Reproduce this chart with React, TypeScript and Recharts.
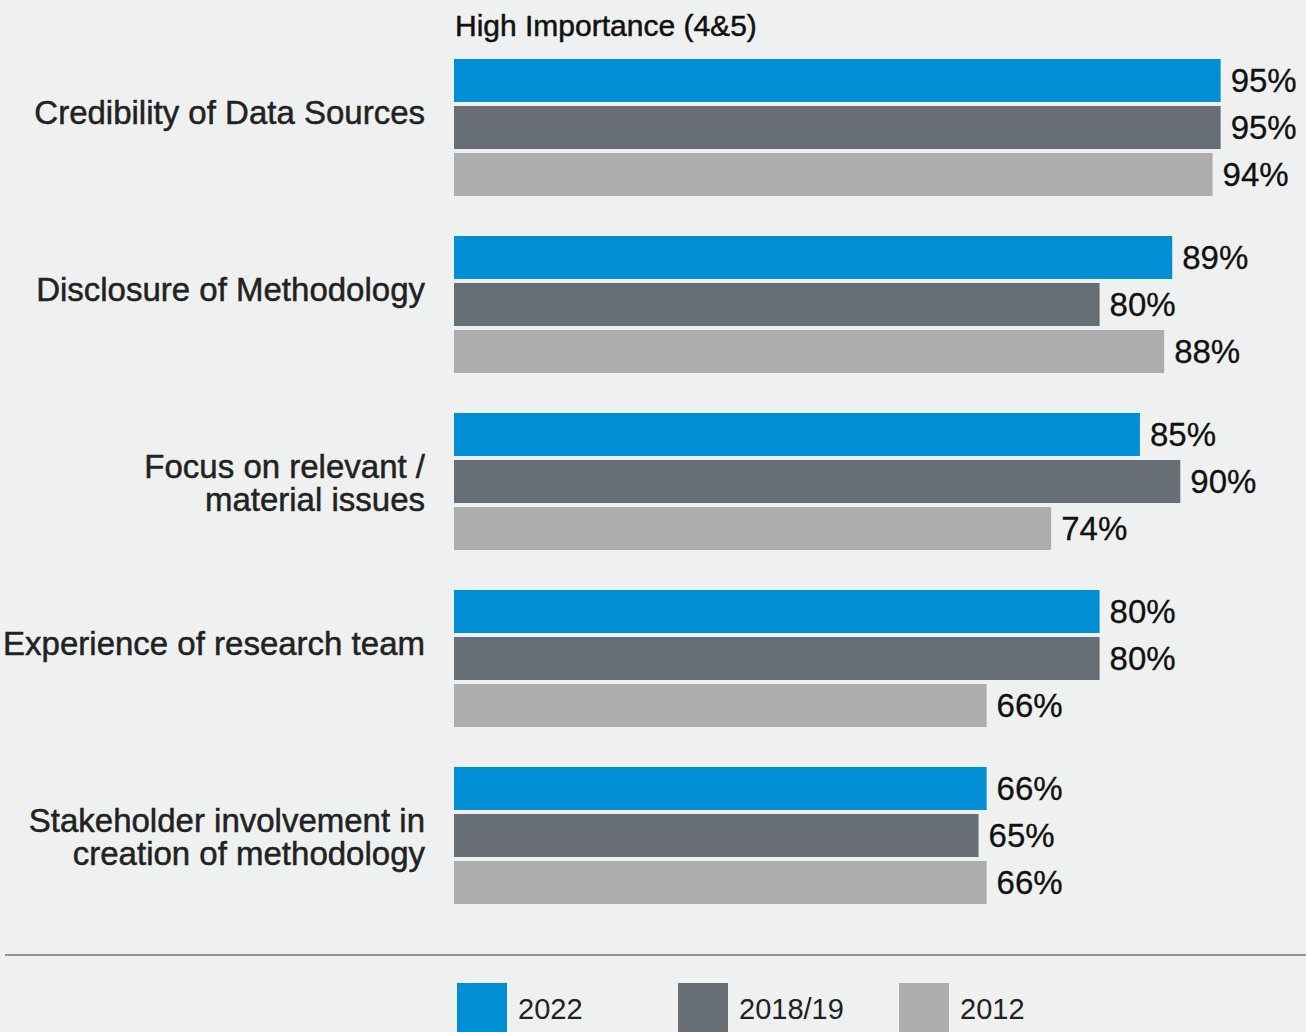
import { BarChart, Bar, XAxis, YAxis, LabelList } from 'recharts'

// categories top to bottom, "\n" marks a line break in the axis label
const categories = [
  'Credibility of Data Sources',
  'Disclosure of Methodology',
  'Focus on relevant /\nmaterial issues',
  'Experience of research team',
  'Stakeholder involvement in\ncreation of methodology',
]

const values2022 = [95, 89, 85, 80, 66]
const values2018 = [95, 80, 90, 80, 65]
const values2012 = [94, 88, 74, 66, 66]

const seriesNames = ['2022', '2018/19', '2012']
const seriesKeys = ['y2022', 'y2018', 'y2012']
const seriesColors = ['#008fd5', '#676e75', '#adadad']

const chartData = categories.map((name, i) => ({
  name,
  y2022: values2022[i],
  y2018: values2018[i],
  y2012: values2012[i],
}))

const FONT = '"Liberation Sans", Arial, Helvetica, sans-serif'
const BG = '#eff1f1'

function CategoryTick(props: any) {
  const { x, y, payload } = props
  const lines = String(payload.value).split('\n')
  return (
    <text
      x={x}
      y={y - 3.5}
      textAnchor="end"
      fontSize={33}
      fontFamily={FONT}
      fill="#222"
      stroke="#222"
      strokeWidth={0.5}
    >
      {lines.map((line, i) => (
        <tspan key={i} x={x} dy={i === 0 ? 0 : 33}>
          {line}
        </tspan>
      ))}
    </text>
  )
}

export default function App() {
  return (
    <div
      style={{
        position: 'absolute',
        left: 0,
        top: 0,
        width: 1306,
        height: 1032,
        overflow: 'hidden',
        background: BG,
        fontFamily: FONT,
      }}
    >
      <div
        style={{
          position: 'absolute',
          left: 455,
          top: 9,
          fontSize: 30,
          lineHeight: '34px',
          color: '#111',
          WebkitTextStroke: '0.5px #111',
        }}
      >
        High Importance (4&amp;5)
      </div>

      <BarChart
        width={1306}
        height={1032}
        data={chartData}
        layout="vertical"
        margin={{ top: 39, right: 45, bottom: 108, left: 0 }}
        barCategoryGap={20}
        barGap={4}
      >
        <XAxis type="number" domain={[0, 100]} hide />
        <YAxis
          type="category"
          dataKey="name"
          width={454}
          axisLine={false}
          tickLine={false}
          tickSize={0}
          tickMargin={29}
          interval={0}
          tick={<CategoryTick />}
        />
        {seriesKeys.map((key, i) => (
          <Bar key={key} dataKey={key} name={seriesNames[i]} fill={seriesColors[i]} isAnimationActive={false}>
            <LabelList
              dataKey={key}
              position="right"
              offset={10}
              formatter={(v: any) => `${v}%`}
              fontSize={33}
              fontFamily={FONT}
              fill="#111"
              stroke="#111"
              strokeWidth={0.3}
            />
          </Bar>
        ))}
      </BarChart>

      <div
        style={{
          position: 'absolute',
          left: 5,
          top: 954,
          width: 1301,
          height: 2,
          background: '#8f9597',
        }}
      />

      <div style={{ position: 'absolute', left: 457, top: 983, display: 'flex' }}>
        {seriesNames.map((name, i) => (
          <div key={name} style={{ width: 221, display: 'flex', alignItems: 'flex-start' }}>
            <div style={{ width: 50, height: 60, background: seriesColors[i] }} />
            <div
              style={{
                marginLeft: 11,
                marginTop: 9,
                fontSize: 29,
                lineHeight: '34px',
                color: '#222',
              }}
            >
              {name}
            </div>
          </div>
        ))}
      </div>
    </div>
  )
}
